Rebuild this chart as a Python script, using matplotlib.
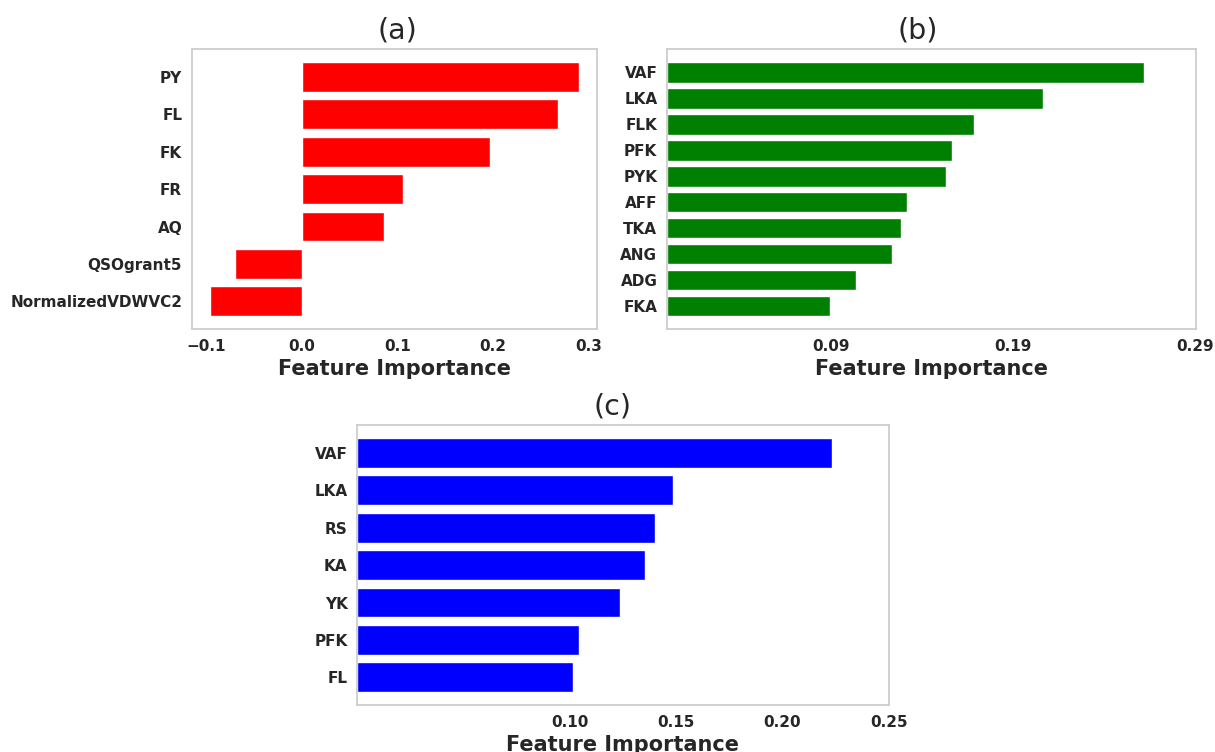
import numpy as np
import matplotlib.pyplot as plt

# (a) features and importances, top to bottom
feat_a = ['PY', 'FL', 'FK', 'FR', 'AQ', 'QSOgrant5', 'NormalizedVDWVC2']
imp_a = [0.289, 0.268, 0.197, 0.1063, 0.0857, -0.0695, -0.0952]

# (b)
feat_b = ['VAF', 'LKA', 'FLK', 'PFK', 'PYK', 'AFF', 'TKA', 'ANG', 'ADG', 'FKA']
imp_b = [0.2615, 0.2062, 0.1685, 0.1563, 0.153, 0.1316, 0.1284, 0.1233, 0.1035, 0.0894]

# (c)
feat_c = ['VAF', 'LKA', 'RS', 'KA', 'YK', 'PFK', 'FL']
imp_c = [0.2234, 0.1483, 0.140, 0.1352, 0.1236, 0.1041, 0.1017]

plt.rcParams.update({
    'font.family': 'DejaVu Sans',
    'axes.edgecolor': '0.8',
    'axes.linewidth': 1.25,
    'text.color': '0.15',
    'axes.labelcolor': '0.15',
    'xtick.color': '0.15',
    'ytick.color': '0.15',
})

fig = plt.figure(figsize=(12.15, 7.52), dpi=100)
ax_a = fig.add_axes([0.158, 0.5625, 0.3333, 0.372])
ax_b = fig.add_axes([0.549, 0.5625, 0.435, 0.372])
ax_c = fig.add_axes([0.294, 0.0625, 0.4375, 0.372])


def draw(ax, feats, vals, color, title, tx):
    y = np.arange(len(feats))
    ax.barh(y, vals, height=0.8, color=color, edgecolor='white', linewidth=1)
    ax.set_yticks(y)
    ax.set_yticklabels(feats, fontsize=11, fontweight='bold')
    ax.invert_yaxis()
    ax.tick_params(axis='both', length=0, pad=7)
    ax.set_xlabel('Feature Importance', fontsize=15, fontweight='bold', labelpad=4)
    ax.set_title(title, fontsize=20.5, pad=8, x=tx)
    ax.grid(False)


draw(ax_a, feat_a, imp_a, 'red', '(a)', 0.507)
ax_a.set_xticks([-0.1, 0.0, 0.1, 0.2, 0.3])
ax_a.set_xticklabels(['\u22120.1', '0.0', '0.1', '0.2', '0.3'], fontsize=11, fontweight='bold')

draw(ax_b, feat_b, imp_b, 'green', '(b)', 0.474)
ax_b.set_xlim(0, 0.29)
ax_b.set_xticks([0.09, 0.19, 0.29])
ax_b.set_xticklabels(['0.09', '0.19', '0.29'], fontsize=11, fontweight='bold')

draw(ax_c, feat_c, imp_c, 'blue', '(c)', 0.48)
ax_c.set_xlim(0, 0.25)
ax_c.set_xticks([0.10, 0.15, 0.20, 0.25])
ax_c.set_xticklabels(['0.10', '0.15', '0.20', '0.25'], fontsize=11, fontweight='bold')

fig.savefig('out.png', dpi=100)
